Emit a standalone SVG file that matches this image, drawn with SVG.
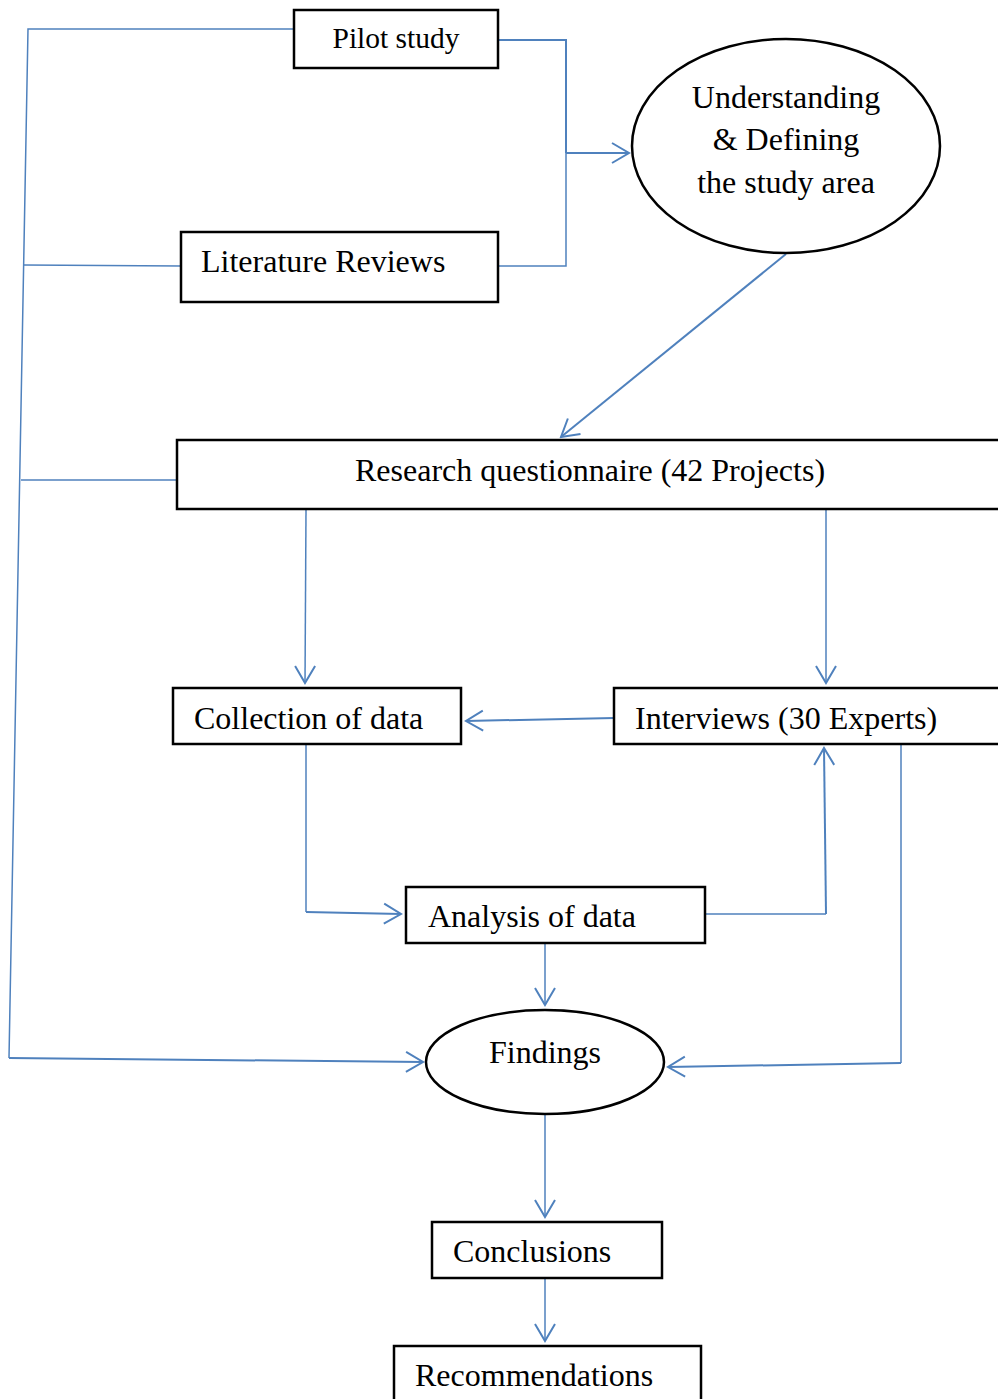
<svg xmlns="http://www.w3.org/2000/svg" width="998" height="1399" viewBox="0 0 998 1399">
<defs>
<style>
.box{fill:#fff;stroke:#000;stroke-width:2.5}
.t{font-family:"Liberation Serif","Times New Roman",serif;font-size:32px;fill:#000}
.c{fill:none;stroke:#4F81BD;stroke-width:2}
.cn{fill:none;stroke:#4F81BD;stroke-width:1.5}
</style>
<marker id="ah" viewBox="-20 -12 22 24" refX="0" refY="0" markerWidth="22" markerHeight="24" markerUnits="userSpaceOnUse" orient="auto">
<path d="M-17,-10 L0,0 L-17,10" fill="none" stroke="#4F81BD" stroke-width="2"/>
</marker>
</defs>
<rect width="998" height="1399" fill="#fff"/>
<g id="connectors">
<polyline class="c" points="498,40 566,40 566,153"/>
<polyline class="cn" points="498,266 566,266 566,153"/>
<line class="c" x1="566" y1="153" x2="629" y2="153" marker-end="url(#ah)"/>
<polyline class="cn" points="294,29 28,29 9,1058"/>
<line class="cn" x1="181" y1="266" x2="24" y2="265"/>
<line class="cn" x1="177" y1="480" x2="21" y2="480"/>
<line class="c" x1="9" y1="1058" x2="423" y2="1062" marker-end="url(#ah)"/>
<line class="c" x1="786" y1="254" x2="561" y2="437" marker-end="url(#ah)"/>
<line class="cn" x1="306" y1="510" x2="305" y2="683" marker-end="url(#ah)"/>
<line class="cn" x1="826" y1="510" x2="826" y2="683" marker-end="url(#ah)"/>
<line class="c" x1="614" y1="718" x2="466" y2="721" marker-end="url(#ah)"/>
<polyline class="cn" points="306,744 306,912"/>
<line class="c" x1="306" y1="912" x2="401" y2="914" marker-end="url(#ah)"/>
<polyline class="cn" points="705,914 826,914"/>
<line class="c" x1="826" y1="914" x2="824" y2="748" marker-end="url(#ah)"/>
<polyline class="cn" points="901,744 901,1063"/>
<line class="c" x1="901" y1="1063" x2="668" y2="1067" marker-end="url(#ah)"/>
<line class="cn" x1="545" y1="943" x2="545" y2="1005" marker-end="url(#ah)"/>
<line class="cn" x1="545" y1="1115" x2="545" y2="1217" marker-end="url(#ah)"/>
<line class="cn" x1="545" y1="1278" x2="545" y2="1341" marker-end="url(#ah)"/>
</g>
<g id="pilot">
<rect class="box" x="294" y="10" width="204" height="58"/>
<text class="t" x="396" y="48" text-anchor="middle" style="font-size:29.5px">Pilot study</text>
</g>
<g id="literature">
<rect class="box" x="181" y="232" width="317" height="70"/>
<text class="t" x="201" y="272">Literature Reviews</text>
</g>
<g id="understanding">
<ellipse class="box" cx="786" cy="146" rx="154" ry="107"/>
<text class="t" text-anchor="middle"><tspan x="786" y="108">Understanding</tspan><tspan x="786" y="150">&amp; Defining</tspan><tspan x="786" y="193">the study area</tspan></text>
</g>
<g id="questionnaire">
<rect class="box" x="177" y="440" width="830" height="69"/>
<text class="t" x="590" y="481" text-anchor="middle">Research questionnaire (42 Projects)</text>
</g>
<g id="collection">
<rect class="box" x="173" y="688" width="288" height="56"/>
<text class="t" x="194" y="729">Collection of data</text>
</g>
<g id="interviews">
<rect class="box" x="614" y="688" width="393" height="56"/>
<text class="t" x="635" y="729">Interviews (30 Experts)</text>
</g>
<g id="analysis">
<rect class="box" x="406" y="887" width="299" height="56"/>
<text class="t" x="428" y="927">Analysis of data</text>
</g>
<g id="findings">
<ellipse class="box" cx="545" cy="1062" rx="119" ry="52"/>
<text class="t" x="545" y="1063" text-anchor="middle">Findings</text>
</g>
<g id="conclusions">
<rect class="box" x="432" y="1222" width="230" height="56"/>
<text class="t" x="453" y="1262">Conclusions</text>
</g>
<g id="recommendations">
<rect class="box" x="394" y="1346" width="307" height="70"/>
<text class="t" x="415" y="1386">Recommendations</text>
</g>
</svg>
